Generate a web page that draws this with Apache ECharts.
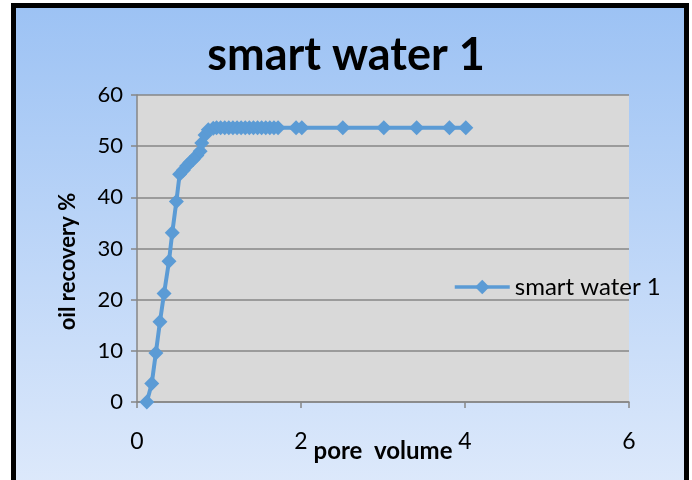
<!DOCTYPE html>
<html>
<head>
<meta charset="utf-8">
<script src="https://cdn.jsdelivr.net/npm/echarts@6/dist/echarts.min.js"></script>
<style>
    html, body { margin: 0; padding: 0; background: #fff; }
    #chart { width: 692px; height: 480px; }
</style>
</head>
<body>
<div id="chart"></div>
<script>
(function () {

    // pore volume (x) and oil recovery % (y)
    var poreVolume = [
        0.12, 0.18, 0.23, 0.28, 0.33, 0.39, 0.43, 0.48, 0.52, 0.565,
        0.605, 0.645, 0.685, 0.73, 0.77, 0.79, 0.83, 0.87, 0.93, 0.97,
        1.02, 1.07, 1.12, 1.17, 1.22, 1.27, 1.32, 1.37, 1.42, 1.47,
        1.52, 1.57, 1.62, 1.67, 1.72, 1.94, 2.01, 2.51, 3.01, 3.41,
        3.81, 4.01
    ];
    var oilRecovery = [
        0, 3.6, 9.6, 15.7, 21.2, 27.5, 33.1, 39.2, 44.5, 45.3,
        46.1, 46.8, 47.4, 48.2, 49.0, 50.6, 52.2, 53.2, 53.5, 53.6,
        53.6, 53.6, 53.6, 53.6, 53.6, 53.6, 53.6, 53.6, 53.6, 53.6,
        53.6, 53.6, 53.6, 53.6, 53.6, 53.6, 53.6, 53.6, 53.6, 53.6,
        53.6, 53.6
    ];
    var seriesName = 'smart water 1';

    var points = poreVolume.map(function (x, i) {
        return [x, oilRecovery[i]];
    });

    var font = 'Lato, "Open Sans", sans-serif';
    var gridColor = '#868686';
    var lineColor = '#5b9bd5';

    var myChart = echarts.init(document.getElementById('chart'));

    myChart.setOption({
        animation: false,
        textStyle: { fontFamily: font },
        graphic: [{
            type: 'rect',
            z: -10,
            shape: { x: 13.5, y: 5.5, width: 673, height: 480 },
            style: {
                stroke: '#000',
                lineWidth: 5,
                fill: new echarts.graphic.LinearGradient(0, 0, 0, 1, [
                    { offset: 0, color: '#9cc2f4' },
                    { offset: 1, color: '#dde9fb' }
                ])
            }
        }],
        title: {
            text: seriesName,
            left: 'center',
            top: 28,
            textStyle: {
                fontFamily: font,
                fontSize: 45,
                fontWeight: 'bold',
                color: '#000'
            }
        },
        legend: {
            data: [seriesName],
            left: 448,
            top: 270,
            itemWidth: 55,
            itemHeight: 18,
            itemGap: 4,
            lineStyle: { width: 3.5 },
            textStyle: { fontFamily: font, fontSize: 24, color: '#000' }
        },
        grid: {
            left: 137,
            right: 63,
            top: 95,
            bottom: 78,
            outerBoundsMode: 'none',
            containLabel: false,
            show: true,
            backgroundColor: '#d9d9d9',
            borderWidth: 0
        },
        xAxis: {
            type: 'value',
            min: 0,
            max: 6,
            interval: 2,
            name: 'pore  volume',
            nameLocation: 'middle',
            nameGap: 37,
            nameMoveOverlap: false,
            nameTextStyle: { fontFamily: font, fontSize: 24, fontWeight: 'bold', color: '#000' },
            axisLine: { show: true, lineStyle: { color: gridColor, width: 1.5 } },
            axisTick: { show: true, length: 6, lineStyle: { color: gridColor, width: 1.5 } },
            axisLabel: { margin: 28, fontSize: 23, color: '#000', fontFamily: font },
            splitLine: { show: false }
        },
        yAxis: {
            type: 'value',
            min: 0,
            max: 60,
            interval: 10,
            name: 'oil recovery %',
            nameLocation: 'middle',
            nameGap: 58,
            nameMoveOverlap: false,
            nameTextStyle: {
                fontFamily: font, fontSize: 22, fontWeight: 'bold', color: '#000',
                padding: [0, 26, 0, 0]
            },
            axisLine: { show: true, lineStyle: { color: gridColor, width: 1.5 } },
            axisTick: { show: true, length: 6, lineStyle: { color: gridColor, width: 1.5 } },
            axisLabel: { margin: 14, fontSize: 22, color: '#000', fontFamily: font },
            splitLine: { show: true, lineStyle: { color: gridColor, width: 1.5 } }
        },
        series: [{
            name: seriesName,
            type: 'line',
            data: points,
            symbol: 'diamond',
            symbolSize: 15,
            showAllSymbol: true,
            lineStyle: { color: lineColor, width: 4 },
            itemStyle: { color: lineColor }
        }]
    });

    window.addEventListener('resize', myChart.resize);

})();
</script>
</body>
</html>
